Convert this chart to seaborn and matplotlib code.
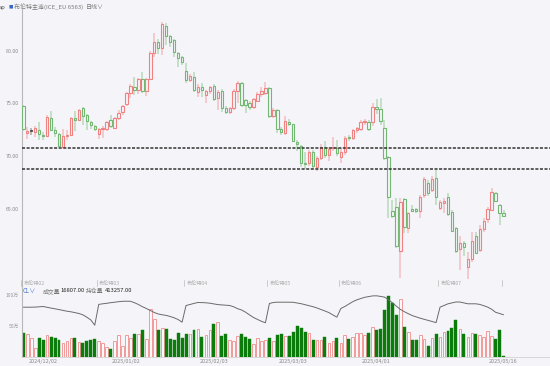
import numpy as np
import pandas as pd
import matplotlib
matplotlib.use("Agg")
import matplotlib.pyplot as plt
import seaborn as sns
from matplotlib.transforms import blended_transform_factory

# ---------------- data ----------------
open_ = [74.80, 72.20, 72.40, 72.30, 72.50, 72.00, 71.90, 73.60, 72.50, 72.10,
         70.90, 71.90, 72.05, 73.60, 73.40, 74.60, 73.90, 73.20, 72.90, 72.15,
         72.55, 72.60, 73.40, 72.70, 73.60, 74.20, 74.95, 75.96, 76.60, 76.30,
         77.30, 76.20, 77.30, 79.80, 80.85, 80.30, 82.37, 81.43, 81.00, 79.75,
         79.40, 78.07, 77.20, 77.54, 76.12, 76.59, 75.80, 76.20, 76.65, 75.50,
         76.20, 74.60, 74.20, 74.54, 76.20, 76.90, 75.30, 75.05, 74.70, 75.20,
         75.90, 76.00, 76.45, 73.80, 74.38, 72.60, 72.23, 73.27, 73.02, 71.30,
         71.00, 69.40, 69.39, 70.43, 69.00, 69.86, 70.90, 70.10, 70.80, 70.80,
         69.95, 70.43, 71.80, 71.70, 72.50, 72.55, 73.20, 73.27, 73.27, 74.63,
         74.47, 72.64, 69.96, 64.84, 65.20, 61.05, 65.90, 63.16, 64.96, 64.96,
         64.84, 66.32, 67.50, 66.80, 67.90, 65.12, 65.60, 66.16, 64.74, 63.16,
         61.17, 61.74, 59.46, 60.22, 62.43, 61.11, 63.07, 64.00, 64.90, 66.54,
         65.40, 64.65]
high = [74.90, 72.80, 72.70, 72.90, 73.20, 72.30, 73.90, 74.30, 72.80, 72.20,
        72.60, 72.50, 73.70, 74.30, 74.50, 74.70, 74.00, 73.30, 73.00, 72.70,
        72.90, 73.30, 73.90, 73.70, 74.40, 74.90, 76.10, 76.80, 77.50, 77.40,
        77.95, 77.40, 80.00, 81.65, 81.10, 82.75, 82.60, 81.50, 81.10, 79.90,
        79.50, 78.80, 77.80, 78.00, 76.80, 76.90, 76.30, 76.70, 76.85, 76.30,
        76.40, 74.80, 74.70, 76.40, 77.10, 77.00, 75.40, 75.20, 75.50, 76.10,
        76.60, 77.00, 76.60, 74.60, 74.50, 72.80, 73.80, 73.50, 73.10, 71.50,
        71.10, 70.40, 70.60, 70.60, 70.00, 71.20, 71.40, 70.90, 71.80, 71.50,
        70.80, 71.90, 72.00, 72.60, 72.80, 73.40, 73.50, 73.40, 75.00, 75.39,
        75.50, 73.40, 70.00, 65.85, 66.00, 66.00, 66.00, 64.75, 65.40, 65.10,
        66.30, 68.00, 67.70, 68.10, 68.70, 65.85, 66.00, 66.50, 64.90, 63.30,
        62.40, 62.00, 60.95, 62.85, 62.85, 63.50, 64.10, 65.20, 66.95, 66.60,
        65.50, 64.90]
low = [72.40, 71.60, 72.00, 71.80, 71.50, 71.50, 71.80, 72.40, 71.85, 70.90,
       70.85, 71.50, 71.90, 72.40, 73.30, 73.00, 72.50, 72.60, 72.40, 71.60,
       71.70, 72.40, 72.70, 72.60, 73.40, 73.90, 74.80, 75.50, 75.80, 75.90,
       76.00, 75.70, 77.20, 79.40, 79.70, 79.60, 80.50, 80.40, 79.40, 78.50,
       78.60, 76.90, 77.00, 76.10, 75.60, 75.60, 75.00, 75.90, 75.20, 74.40,
       74.20, 74.00, 74.00, 74.40, 75.00, 74.70, 74.10, 74.40, 74.50, 75.10,
       75.60, 75.80, 73.60, 73.60, 72.20, 72.00, 72.00, 72.90, 71.30, 70.50,
       69.00, 68.80, 69.10, 68.80, 68.60, 69.60, 69.80, 69.50, 70.50, 70.00,
       69.40, 70.10, 71.40, 71.50, 72.20, 72.40, 73.00, 72.40, 72.90, 74.00,
       72.96, 69.60, 64.10, 64.10, 61.30, 58.43, 62.70, 62.70, 64.70, 64.60,
       64.10, 66.00, 66.20, 66.60, 65.40, 64.90, 64.60, 64.30, 62.80, 60.80,
       59.20, 60.50, 58.40, 60.00, 60.80, 60.90, 62.85, 63.70, 64.80, 65.70,
       63.50, 64.30]
close = [72.55, 72.35, 72.40, 72.65, 72.10, 71.90, 73.70, 72.50, 72.20, 71.00,
         71.90, 72.05, 73.60, 73.45, 74.40, 73.80, 73.30, 73.00, 72.60, 72.60,
         72.70, 73.20, 72.85, 73.60, 74.10, 74.80, 75.96, 76.70, 76.30, 77.30,
         76.20, 77.30, 79.75, 80.85, 80.30, 82.50, 81.43, 80.80, 79.90, 79.34,
         78.96, 77.22, 77.60, 76.30, 76.59, 76.27, 76.20, 76.53, 75.40, 76.10,
         74.54, 74.20, 74.54, 76.20, 76.90, 74.85, 74.85, 74.70, 75.40, 75.90,
         76.20, 76.45, 73.85, 74.40, 72.55, 72.30, 73.37, 73.05, 71.44, 71.12,
         69.40, 69.26, 70.37, 69.07, 69.86, 70.90, 70.10, 70.65, 70.90, 70.33,
         70.43, 71.70, 71.70, 72.50, 72.64, 73.27, 73.37, 72.55, 74.70, 74.47,
         73.37, 69.80, 66.10, 64.36, 61.49, 65.69, 63.32, 64.60, 64.84, 64.84,
         66.10, 67.80, 66.48, 67.80, 66.10, 65.69, 65.80, 64.52, 62.94, 61.05,
         61.80, 61.36, 60.22, 62.00, 60.86, 63.07, 63.86, 64.96, 66.60, 65.80,
         64.60, 64.33]
volume = [392000, 376000, 301000, 151000, 301000, 274000, 350000, 323000, 306000, 274000,
          220000, 258000, 301000, 312000, 237000, 220000, 258000, 269000, 285000, 253000,
          220000, 156000, 134000, 258000, 350000, 177000, 350000, 301000, 366000, 366000,
          430000, 285000, 769000, 608000, 436000, 473000, 446000, 296000, 274000, 382000,
          301000, 366000, 366000, 436000, 458000, 328000, 354000, 430000, 538000, 569000,
          339000, 366000, 279000, 258000, 339000, 366000, 323000, 285000, 204000, 312000,
          258000, 269000, 312000, 258000, 355000, 376000, 339000, 339000, 409000, 500000,
          468000, 403000, 392000, 269000, 269000, 269000, 323000, 231000, 258000, 306000,
          231000, 355000, 296000, 323000, 382000, 392000, 355000, 392000, 484000, 430000,
          446000, 753000, 984000, 876000, 672000, 930000, 484000, 403000, 269000, 269000,
          350000, 285000, 177000, 301000, 376000, 323000, 403000, 419000, 473000, 597000,
          446000, 366000, 323000, 382000, 366000, 355000, 323000, 419000, 339000, 296000,
          441000, 16807]
open_interest = [487700, 487700, 487700, 488700, 491600, 494500, 486700, 478900, 472000, 464200,
                 456400, 448500, 442600, 434800, 426000, 413300, 389800, 363300, 311400, 515100,
                 521000, 525900, 531800, 536700, 541500, 545500, 546400, 545500, 531800, 514100,
                 492600, 475000, 455400, 435800, 421100, 413300, 407400, 396600, 383900, 367200,
                 340800, 504300, 514100, 524900, 533700, 532700, 530800, 526900, 520000, 513200,
                 510200, 507300, 504300, 491600, 473000, 460300, 438700, 412300, 386800, 368200,
                 349600, 334900, 523900, 533700, 536700, 536700, 536700, 536700, 535700, 528800,
                 522000, 512200, 502400, 492600, 479900, 465200, 450500, 434800, 412300, 389800,
                 475000, 494500, 518000, 541500, 559200, 571900, 584600, 591500, 598400, 599300,
                 593500, 586600, 561100, 530800, 497500, 466100, 443600, 424000, 405400, 392700,
                 380000, 369200, 358400, 347700, 336900, 488700, 504300, 521000, 529800, 538600,
                 538600, 529800, 521000, 521000, 521000, 515100, 502400, 488700, 467100, 437700,
                 426000, 413257]
date_tick_idx = [5, 26, 48, 68, 89, 121]
date_tick_labels = ["2024/12/02", "2025/01/02", "2025/02/03", "2025/03/03", "2025/04/01", "2025/05/16"]
contracts = ["布伦特02", "布伦特03", "布伦特04", "布伦特05", "布伦特06", "布伦特07", ""]
roll_idx = [0, 19, 41, 62, 80, 105, 121]
levels = [70.75, 68.8]
price_ticks = [65, 70, 75, 80]
vol_ticks = [500000, 1000000]
vol_tick_labels = ["50万", "100万"]
title = "布伦特主连(ICE_EU 6563)"
period = "日线"

# ---------------- styling ----------------
sns.set_theme(style="white")
plt.rcParams['font.family'] = ['Noto Sans CJK SC', 'DejaVu Sans']
BG = '#f5f5f9'
RED = '#f08282'
GREEN = '#72b872'
DOJI = '#555555'
VRED = '#f29b9b'
VGREEN = '#0b7b0b'
GREY = '#8a8a8a'

df = pd.DataFrame({"open": open_, "high": high, "low": low, "close": close,
                   "volume": volume, "oi": open_interest})
df["x"] = np.arange(len(df))
up = df["close"] > df["open"]
down = df["close"] < df["open"]
cols = np.where(up, RED, np.where(down, GREEN, DOJI))

W, H = 550, 366
fig = plt.figure(figsize=(5.5, 3.66), dpi=100, facecolor=BG)
ax = fig.add_axes([22 / W, (H - 287) / H, 528 / W, 279 / H], facecolor=BG)
axv = fig.add_axes([22 / W, (H - 357) / H, 528 / W, 70 / H], facecolor=BG, sharex=ax)

# candles
ax.vlines(df["x"], df["low"], df["high"], colors=cols, alpha=0.4, lw=1.3, zorder=2)
body_lo = np.minimum(df["open"], df["close"])
body_h = np.maximum(np.abs(df["close"] - df["open"]), 0.05)
ax.bar(df["x"], body_h, bottom=body_lo, width=0.6, color=BG, edgecolor=cols,
       linewidth=0.8, zorder=3)
for lv in levels:
    ax.axhline(lv, color='#333333', lw=1.1, ls=(0, (2, 1)), zorder=4)

ax.set_xlim(-0.33, 132.7)
ax.set_ylim(57.60, 84.05)
ax.set_yticks(price_ticks)
ax.set_yticklabels([f"{v:.2f}" for v in price_ticks])
ax.tick_params(axis='y', length=0, labelsize=3.8, colors=GREY, pad=2)
ax.tick_params(axis='x', bottom=False, labelbottom=False)
for s in ['top', 'right']:
    ax.spines[s].set_visible(False)
ax.spines['left'].set_color('#b8b8b8')
ax.spines['left'].set_linewidth(0.8)
ax.spines['bottom'].set_color('#d2d2d2')
ax.spines['bottom'].set_linewidth(0.6)

# contract roll labels
trans = blended_transform_factory(ax.transData, ax.transAxes)
for name, r in zip(contracts, roll_idx):
    xr = r - 0.5
    ax.plot([xr, xr], [0.002, 0.026], transform=trans, color='#c4c4c4', lw=0.6,
            clip_on=False)
    if name:
        ax.text(xr + 0.6, 0.0143, name, transform=trans, fontsize=3.7, color='#ababab',
                ha='left', va='center')

# volume
vol = df["volume"].to_numpy()
red_m = (df["close"] >= df["open"]).to_numpy()
axv.bar(df["x"][red_m], vol[red_m], width=0.66, color='#fbf8f9', edgecolor=VRED,
        linewidth=0.7, zorder=2)
axv.bar(df["x"][~red_m], vol[~red_m], width=0.74, color=VGREEN, edgecolor=VGREEN,
        linewidth=0.3, zorder=2)
axv.set_ylim(0, 70 / 31 * 500000)
axv.set_yticks(vol_ticks)
axv.set_yticklabels(vol_tick_labels)
axv.tick_params(axis='y', length=0, labelsize=3.6, colors='#9a9a9a', pad=2)
axv.set_xticks(date_tick_idx)
axv.set_xticklabels(date_tick_labels)
axv.tick_params(axis='x', length=0, labelsize=4, colors=GREY, pad=1.5)
for s in ['top', 'right']:
    axv.spines[s].set_visible(False)
axv.spines['left'].set_color('#b8b8b8')
axv.spines['left'].set_linewidth(0.8)
axv.spines['bottom'].set_color('#d2d2d2')
axv.spines['bottom'].set_linewidth(0.6)

# open interest line
axo = axv.twinx()
sns.lineplot(data=df, x="x", y="oi", ax=axo, color='#6a6a6a', lw=0.7, zorder=3)
axo.set_ylim(0, 70 * 9793)
axo.set_axis_off()
axv.set_xlim(-0.33, 132.7)

# header texts (pixel positions converted to figure fraction)
def fx(px):
    return px / W

def fy(py):
    return 1 - py / H

fig.text(fx(5.5), fy(7), "ap", fontsize=4.2, color='#555555', ha='right', va='center')
fig.text(fx(8.5), fy(7), "■", fontsize=3.2, color='#3566c8', ha='left', va='center')
fig.text(fx(14.5), fy(7), title, fontsize=4.3, color='#7a7a7a', ha='left', va='center')
fig.text(fx(86), fy(7), period + "∨", fontsize=4.3, color='#7a7a7a', ha='left', va='center')

fig.text(fx(23), fy(291), "CL∨", fontsize=4.4, color='#4a78d0', ha='left', va='center')
fig.text(fx(43), fy(291), "成交量", fontsize=4.2, color='#777777', ha='left', va='center')
fig.text(fx(60), fy(291), f"{df['volume'].iloc[-1]:.2f}", fontsize=4.2, color='#222222',
         ha='left', va='center')
fig.text(fx(86), fy(291), "持仓量", fontsize=4.2, color='#777777', ha='left', va='center')
fig.text(fx(105), fy(291), f"{df['oi'].iloc[-1]:.2f}", fontsize=4.2, color='#222222',
         ha='left', va='center')

fig.savefig("out.png", dpi=100, facecolor=BG)
